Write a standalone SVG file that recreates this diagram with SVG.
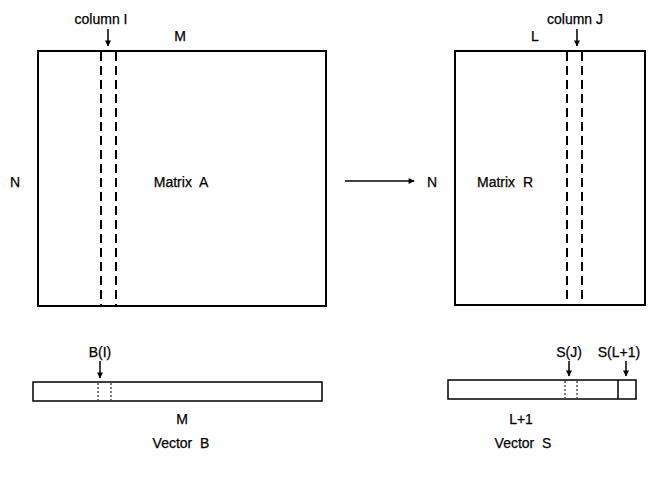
<svg xmlns="http://www.w3.org/2000/svg" width="663" height="481" viewBox="0 0 663 481">
  <style>
    .box { fill: none; stroke: #000; stroke-width: 2; }
    .thin { fill: none; stroke: #000; stroke-width: 1.5; }
    .dash { stroke: #000; stroke-width: 2; stroke-dasharray: 9 5; fill: none; }
    .dot { stroke: #000; stroke-width: 1; stroke-dasharray: 2 2; fill: none; }
    .lbl { font-family: "Liberation Sans", Arial, sans-serif; font-size: 14px; fill: #000; text-anchor: middle; white-space: pre; stroke: #000; stroke-width: 0.25; }
    .arr { stroke: #000; stroke-width: 1.5; fill: none; }
  </style>
  <defs>
    <marker id="head" viewBox="0 0 10 10" refX="9" refY="5" markerWidth="8" markerHeight="6" orient="auto" markerUnits="userSpaceOnUse">
      <path d="M0,0 L10,5 L0,10 z" fill="#000"/>
    </marker>
  </defs>

  <!-- Matrix A -->
  <g id="matrixA">
    <rect class="box" x="38" y="51" width="288" height="255"/>
    <line class="dash" x1="101" y1="52" x2="101" y2="305"/>
    <line class="dash" x1="116" y1="52" x2="116" y2="305"/>
    <text class="lbl" x="101" y="24" xml:space="preserve">column I</text>
    <text class="lbl" x="180" y="41">M</text>
    <text class="lbl" x="15" y="187">N</text>
    <text class="lbl" x="181" y="187" xml:space="preserve">Matrix  A</text>
  </g>

  <!-- Matrix R -->
  <g id="matrixR">
    <rect class="box" x="455" y="51" width="190" height="254"/>
    <line class="dash" x1="567" y1="52" x2="567" y2="304"/>
    <line class="dash" x1="582" y1="52" x2="582" y2="304"/>
    <text class="lbl" x="575" y="24" xml:space="preserve">column J</text>
    <text class="lbl" x="535" y="41">L</text>
    <text class="lbl" x="432" y="187">N</text>
    <text class="lbl" x="505" y="187" xml:space="preserve">Matrix  R</text>
  </g>

  <!-- Vector B -->
  <g id="vectorB">
    <rect class="thin" x="33" y="382" width="289" height="19"/>
    <line class="dot" x1="98" y1="383" x2="98" y2="400"/>
    <line class="dot" x1="111" y1="383" x2="111" y2="400"/>
    <text class="lbl" x="100" y="357">B(I)</text>
    <text class="lbl" x="182" y="424">M</text>
    <text class="lbl" x="181" y="448" xml:space="preserve">Vector  B</text>
  </g>

  <!-- Vector S -->
  <g id="vectorS">
    <rect class="thin" x="448" y="380" width="188" height="19"/>
    <line class="thin" x1="618" y1="380" x2="618" y2="399"/>
    <line class="dot" x1="565" y1="381" x2="565" y2="398"/>
    <line class="dot" x1="577" y1="381" x2="577" y2="398"/>
    <text class="lbl" x="569" y="357">S(J)</text>
    <text class="lbl" x="619" y="357">S(L+1)</text>
    <text class="lbl" x="521" y="424">L+1</text>
    <text class="lbl" x="523" y="448" xml:space="preserve">Vector  S</text>
  </g>

  <!-- connectors and pointer arrows -->
  <g id="connectors">
    <line class="arr" x1="345" y1="181" x2="414" y2="181" marker-end="url(#head)"/>
    <line class="arr" x1="108" y1="29" x2="108" y2="46" marker-end="url(#head)"/>
    <line class="arr" x1="577" y1="29" x2="577" y2="46" marker-end="url(#head)"/>
    <line class="arr" x1="100" y1="361" x2="100" y2="378" marker-end="url(#head)"/>
    <line class="arr" x1="569" y1="361" x2="569" y2="376" marker-end="url(#head)"/>
    <line class="arr" x1="626" y1="361" x2="626" y2="376" marker-end="url(#head)"/>
  </g>
</svg>
